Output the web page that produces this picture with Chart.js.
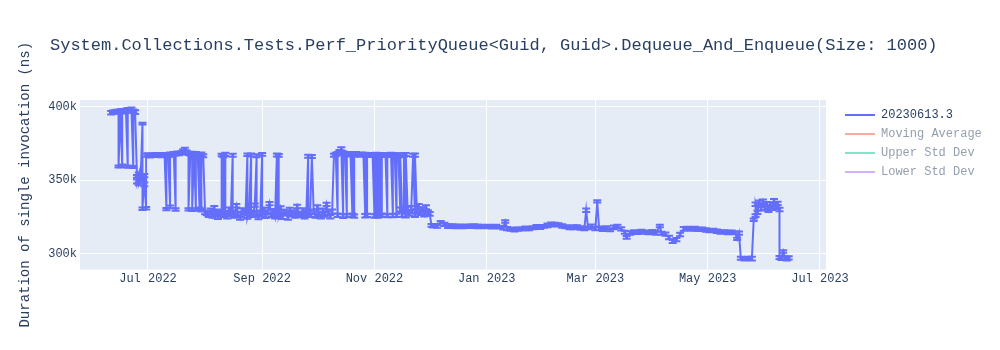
<!DOCTYPE html>
<html>
<head>
<meta charset="utf-8">
<script src="https://cdn.jsdelivr.net/npm/chart.js@4.4.1/dist/chart.umd.min.js"></script>
<style>
html,body{margin:0;padding:0;background:#ffffff;}
canvas{display:block;}
</style>
</head>
<body>
<canvas id="c" width="1000" height="350"></canvas>
<script>
// ---------------- data ----------------
const chartTitle = "System.Collections.Tests.Perf_PriorityQueue<Guid, Guid>.Dequeue_And_Enqueue(Size: 1000)";
const yAxisTitle = "Duration of single invocation (ns)";
const seriesNames = ["20230613.3", "Moving Average", "Upper Std Dev", "Lower Std Dev"];

const xTickDates = ["2022-07-01", "2022-09-01", "2022-11-01", "2023-01-01", "2023-03-01", "2023-05-01", "2023-07-01"];
const xTickLabels = ["Jul 2022", "Sep 2022", "Nov 2022", "Jan 2023", "Mar 2023", "May 2023", "Jul 2023"];
const xRange = ["2022-05-25T01:35:00Z", "2023-07-04T06:15:00Z"];
const yTickValues = [300000, 350000, 400000];
const yTickLabels = ["300k", "350k", "400k"];
const yRange = [289200, 404400];

const runDates = [
  '2022-06-11','2022-06-12','2022-06-13','2022-06-14','2022-06-15','2022-06-15','2022-06-16','2022-06-17','2022-06-17','2022-06-18',
  '2022-06-19','2022-06-20','2022-06-20','2022-06-21','2022-06-22','2022-06-23','2022-06-23','2022-06-24','2022-06-25','2022-06-25',
  '2022-06-26','2022-06-26','2022-06-27','2022-06-28','2022-06-28','2022-06-29','2022-06-29','2022-06-30','2022-06-30',
  '2022-07-01','2022-07-02','2022-07-03','2022-07-04','2022-07-05','2022-07-06','2022-07-07','2022-07-08','2022-07-09','2022-07-10',
  '2022-07-11','2022-07-11','2022-07-12','2022-07-13','2022-07-13','2022-07-14','2022-07-15','2022-07-16','2022-07-16','2022-07-17',
  '2022-07-18','2022-07-19','2022-07-20','2022-07-21','2022-07-22','2022-07-23','2022-07-23','2022-07-24','2022-07-25','2022-07-25',
  '2022-07-26','2022-07-27','2022-07-27','2022-07-28','2022-07-29','2022-07-29','2022-07-30','2022-07-30','2022-07-31','2022-08-01',
  '2022-08-02','2022-08-03','2022-08-04','2022-08-05','2022-08-06','2022-08-07','2022-08-08','2022-08-09','2022-08-10','2022-08-10',
  '2022-08-11','2022-08-11','2022-08-12','2022-08-12','2022-08-13','2022-08-14','2022-08-15','2022-08-16','2022-08-16','2022-08-17',
  '2022-08-18','2022-08-19','2022-08-20','2022-08-21','2022-08-22','2022-08-23','2022-08-24','2022-08-24','2022-08-25','2022-08-26',
  '2022-08-26','2022-08-27','2022-08-28','2022-08-29','2022-08-29','2022-08-30','2022-08-31','2022-09-01','2022-09-01','2022-09-02',
  '2022-09-03','2022-09-04','2022-09-05','2022-09-06','2022-09-07','2022-09-08','2022-09-09','2022-09-09','2022-09-10','2022-09-10',
  '2022-09-11','2022-09-12','2022-09-13','2022-09-14','2022-09-15','2022-09-16','2022-09-17','2022-09-18','2022-09-19','2022-09-20',
  '2022-09-21','2022-09-22','2022-09-23','2022-09-24','2022-09-25','2022-09-26','2022-09-26','2022-09-27','2022-09-28','2022-09-29',
  '2022-09-30','2022-10-01','2022-10-02','2022-10-03','2022-10-04','2022-10-05','2022-10-06','2022-10-07','2022-10-08','2022-10-09',
  '2022-10-10','2022-10-11','2022-10-12','2022-10-12','2022-10-13','2022-10-14','2022-10-15','2022-10-15','2022-10-16','2022-10-17',
  '2022-10-17','2022-10-18','2022-10-19','2022-10-20','2022-10-20','2022-10-21','2022-10-21','2022-10-22','2022-10-23','2022-10-24',
  '2022-10-25','2022-10-26','2022-10-27','2022-10-27','2022-10-28','2022-10-28','2022-10-29','2022-10-30','2022-10-31','2022-11-01',
  '2022-11-01','2022-11-02','2022-11-02','2022-11-03','2022-11-03','2022-11-04','2022-11-04','2022-11-05','2022-11-05','2022-11-06',
  '2022-11-07','2022-11-08','2022-11-08','2022-11-09','2022-11-10','2022-11-11','2022-11-11','2022-11-12','2022-11-13','2022-11-13',
  '2022-11-14','2022-11-15','2022-11-15','2022-11-16','2022-11-17','2022-11-17','2022-11-18','2022-11-18','2022-11-19','2022-11-20',
  '2022-11-21','2022-11-22','2022-11-23','2022-11-23','2022-11-24','2022-11-25','2022-11-26','2022-11-27','2022-11-28','2022-11-29','2022-11-30',
  '2022-12-01','2022-12-02',
  '2022-12-03','2022-12-05','2022-12-07','2022-12-09','2022-12-11','2022-12-13','2022-12-15','2022-12-17','2022-12-19','2022-12-21',
  '2022-12-23','2022-12-25','2022-12-27','2022-12-29','2022-12-31','2023-01-02','2023-01-04','2023-01-06','2023-01-08','2023-01-10',
  '2023-01-11','2023-01-12','2023-01-14','2023-01-16','2023-01-18','2023-01-20','2023-01-22','2023-01-24','2023-01-26','2023-01-28',
  '2023-01-30','2023-02-01','2023-02-03','2023-02-05','2023-02-07','2023-02-09','2023-02-11','2023-02-13','2023-02-15','2023-02-17',
  '2023-02-19','2023-02-21','2023-02-23','2023-02-24','2023-02-25','2023-02-27','2023-03-01','2023-03-02','2023-03-03',
  '2023-03-05','2023-03-07','2023-03-09','2023-03-11','2023-03-13','2023-03-15','2023-03-17','2023-03-18','2023-03-20','2023-03-22',
  '2023-03-24','2023-03-26','2023-03-28','2023-03-30','2023-04-01','2023-04-03','2023-04-05','2023-04-06','2023-04-08','2023-04-10',
  '2023-04-12','2023-04-14','2023-04-16','2023-04-18','2023-04-20','2023-04-22','2023-04-24','2023-04-26','2023-04-28','2023-04-30',
  '2023-05-02','2023-05-04','2023-05-06','2023-05-08','2023-05-10','2023-05-12','2023-05-14','2023-05-16','2023-05-17','2023-05-18',
  '2023-05-19','2023-05-21','2023-05-23','2023-05-25','2023-05-26','2023-05-27','2023-05-27','2023-05-28','2023-05-29','2023-05-30',
  '2023-05-31','2023-06-01','2023-06-02','2023-06-03','2023-06-04','2023-06-05','2023-06-06','2023-06-07','2023-06-08','2023-06-09',
  '2023-06-09','2023-06-10','2023-06-11','2023-06-12','2023-06-13','2023-06-14'
];

const runValues = [
  395800,396400,396100,397000,396300,359200,396800,359600,397200,396500,
  397600,359100,397900,396700,398100,358900,397000,396200,352500,349000,
  354000,347500,351000,388400,330500,353000,347000,330800,366800,
  367200,366500,367000,366800,367400,366900,367100,366600,367300,367000,
  330200,367200,366800,331800,367500,367000,368000,330000,367600,368200,
  367900,368500,369500,371000,369000,368000,330100,367800,368300,329800,
  367500,330000,368000,366900,330500,367300,329500,367600,366500,328000,
  327500,326000,329000,325500,331000,327000,324500,328500,326500,367000,
  366500,326000,367500,327500,325000,330000,326500,366800,328000,325500,
  332500,327000,324000,329500,326000,328500,367200,325000,330500,367000,
  327000,326000,333000,366500,327500,324500,328000,367400,326500,330000,
  325500,328000,334000,326000,329000,325000,367000,327500,366800,326000,
  331000,325000,328500,327000,324500,330000,326500,328000,325500,332000,
  327000,326000,329500,325000,328000,366200,327500,326000,366000,328500,
  325500,331500,327000,325000,329500,326500,333500,327500,325000,328500,
  366800,367500,326000,368000,369500,371200,325500,368500,367800,325800,
  367500,368000,367200,326200,367600,325500,367000,367800,367400,367000,
  367600,367200,325800,367500,326000,367300,366800,367400,367000,325600,
  367200,326000,367600,325500,367000,325800,367300,326200,366800,367400,
  367000,325700,367200,366700,367400,325900,367000,367300,326000,367100,
  366600,330000,367200,326500,329500,367000,325800,367400,330500,327000,
  331000,366800,326000,367000,329000,332500,327500,330000,326500,331500,328000,
  327000,319200,
  318900,318500,321300,319800,318700,319000,318400,318800,318300,318700,
  318500,318900,318400,318700,318300,318600,318200,318500,318000,317600,
  321800,317000,316500,316300,316600,316800,317200,317000,317600,318200,
  317800,318500,319200,319800,320000,319600,318700,318200,317600,317900,
  318300,317400,316900,329500,317500,318500,317000,335500,317200,
  316500,317500,316200,317800,318400,316800,314500,311000,314000,314800,
  314300,315000,314600,314200,314800,314000,318800,313800,313200,311000,
  308200,309500,313000,316800,317200,316600,317000,316400,316800,316000,
  315600,315900,315200,314600,314900,314300,314600,314100,310000,314000,
  296800,296500,297000,296600,323000,325800,333500,328000,334800,330500,
  335500,331000,334000,329500,333500,330800,335800,331500,334200,330000,
  297300,296800,301400,297000,296600,297100
];

const runErrors = [
  1200,900,1100,800,1000,700,1300,900,1000,1200,
  900,800,1100,1000,1200,700,900,1300,1000,1400,
  1200,1000,1500,600,900,1100,1300,800,1000,
  1000,1200,900,1100,1000,1300,900,1100,1000,1200,
  800,1000,1100,900,1200,1000,1100,900,1000,1200,
  1100,1000,1200,900,1100,1000,800,1200,1000,900,
  1000,900,1100,1200,800,1000,900,1100,1000,1300,
  1400,1100,1600,1200,1300,1500,1000,1400,1200,900,
  1000,1300,1100,1500,1200,1400,1100,1000,1300,1200,
  1200,1500,1000,1300,1400,1100,900,1300,1200,1000,
  1400,1200,1100,1000,1500,1200,1300,900,1400,1200,
  1300,1500,1100,1200,1400,1100,1000,1300,900,1200,
  1200,1400,1300,1100,1500,1200,1300,1400,1100,1200,
  1400,1200,1300,1100,1500,1000,1300,1200,1000,1400,
  1200,1300,1500,1100,1200,1400,1100,1300,1200,1400,
  1000,1100,1200,1000,900,1100,1300,1000,1200,1100,
  1000,1100,1200,1000,900,1100,1000,1200,1000,1100,
  1100,1000,1200,1000,1100,900,1200,1000,1100,1200,
  1000,1100,1000,1200,1100,1000,900,1100,1200,1000,
  1100,1000,1200,1000,1100,1200,1000,900,1100,1000,
  1200,1300,1000,1400,1200,1100,1300,1000,1400,1200,
  1300,1000,1200,1100,1400,1200,1300,1500,1200,1300,1400,
  1300,1000,
  1200,1000,900,1100,1300,1000,1200,900,1100,1000,
  1100,1000,1200,900,1100,1000,1200,1100,1000,1200,
  800,1100,1000,1200,1100,1000,1300,1100,1000,1200,
  1100,1000,1200,1300,1000,1100,1200,1000,1100,1300,
  1000,1200,1100,1200,1000,1300,1100,700,1200,
  1200,1100,1000,1300,1200,1100,1000,900,1200,1100,
  1000,1200,1100,1000,1200,1100,800,1000,1100,1200,
  1000,1100,1200,1300,1100,1000,1200,1100,1000,1200,
  1100,1000,1200,1100,1000,1200,1100,1000,800,1100,
  1000,1100,900,1200,900,1000,1200,1100,1300,1200,
  1200,1300,1100,1200,1400,1100,1300,1200,1100,1200,
  1000,1100,800,1000,1200,1100
];

// ---------------- styles ----------------
const FONT = "'Liberation Mono', 'Courier New', monospace";
const TEXT = '#2a3f5f';
const MAIN = '#636efa';
const legendLineColors = ['#636efa', '#f7aa9d', '#80e6cb', '#d5b1fd'];
const legendTextColors = ['#2a3f5f', '#949fae', '#949fae', '#949fae'];

const toMs = s => Date.parse(s.length === 10 ? s + 'T00:00:00Z' : s);
const xs = runDates.map(toMs);
const lineData = xs.map((x, i) => ({x: x, y: runValues[i]}));
const barData = xs.map((x, i) => ({x: x, y: [runValues[i] - runErrors[i], runValues[i] + runErrors[i]]}));
const capData = [];
xs.forEach((x, i) => {
  capData.push({x: x, y: runValues[i] + runErrors[i]});
  capData.push({x: x, y: runValues[i] - runErrors[i]});
});

const plotBg = {
  id: 'plotBg',
  beforeDraw(chart) {
    const {ctx, chartArea: a} = chart;
    ctx.save();
    ctx.fillStyle = '#ffffff';
    ctx.fillRect(0, 0, chart.width, chart.height);
    ctx.fillStyle = '#E5ECF6';
    ctx.fillRect(a.left, a.top, a.right - a.left, a.bottom - a.top);
    ctx.restore();
  }
};

const layoutTweak = {
  id: 'layoutTweak',
  beforeLayout(chart) {
    const lg = chart.legend;
    if (lg && !lg.__wrapped) {
      const f = lg.fit;
      lg.fit = function () { f.call(this); this.width = 174; };
      lg.__wrapped = true;
    }
  },
  afterLayout(chart) {
    if (chart.titleBlock) chart.titleBlock.left = 50;
    if (chart.legend) { chart.legend.left += 12; chart.legend.top += 2; }
  }
};

new Chart(document.getElementById('c'), {
  type: 'line',
  data: {
    datasets: [
      {
        type: 'line', label: seriesNames[0], data: lineData,
        borderColor: MAIN, backgroundColor: MAIN, borderWidth: 2,
        pointRadius: 0, tension: 0, fill: false, order: 1
      },
      {
        type: 'bar', label: 'err', data: barData,
        backgroundColor: MAIN, borderWidth: 0, barThickness: 2, grouped: false, order: 2
      },
      {
        type: 'line', label: 'caps', data: capData, showLine: false,
        pointStyle: 'line', pointRadius: 4, pointBorderWidth: 2,
        pointBorderColor: MAIN, pointBackgroundColor: MAIN, order: 0
      },
      { type: 'line', label: seriesNames[1], data: [], hidden: true, borderColor: '#EF553B' },
      { type: 'line', label: seriesNames[2], data: [], hidden: true, borderColor: '#00cc96' },
      { type: 'line', label: seriesNames[3], data: [], hidden: true, borderColor: '#ab63fa' }
    ]
  },
  options: {
    responsive: false,
    devicePixelRatio: 1,
    animation: false,
    events: [],
    layout: { padding: { left: 0, right: 0, top: 0, bottom: 50.5 } },
    scales: {
      x: {
        type: 'linear', min: toMs(xRange[0]), max: toMs(xRange[1]), offset: false,
        afterBuildTicks: s => { s.ticks = xTickDates.map(d => ({value: toMs(d)})); },
        afterFit: s => { s.height = 30; },
        ticks: {
          autoSkip: false, maxRotation: 0, padding: 2, color: TEXT,
          font: { family: FONT, size: 12 },
          callback: (v, i) => xTickLabels[i]
        },
        grid: { color: '#ffffff', lineWidth: 1, drawTicks: false, offset: false },
        border: { display: false }
      },
      y: {
        type: 'linear', min: yRange[0], max: yRange[1],
        afterBuildTicks: s => { s.ticks = yTickValues.map(v => ({value: v})); },
        afterFit: s => { s.width = 80; },
        ticks: {
          padding: 3, color: TEXT, font: { family: FONT, size: 12 },
          callback: (v, i) => yTickLabels[i]
        },
        grid: { color: '#ffffff', lineWidth: 1, drawTicks: false },
        border: { display: false },
        title: {
          display: true, text: yAxisTitle, color: TEXT,
          font: { family: FONT, size: 14, lineHeight: 1.2 },
          padding: { top: 17, bottom: 0 }
        }
      }
    },
    plugins: {
      tooltip: { enabled: false },
      title: {
        display: true, text: chartTitle, align: 'start', color: TEXT,
        font: { family: FONT, size: 17, weight: 'normal', lineHeight: 1.2 },
        padding: { top: 35, bottom: 44.6 }
      },
      legend: {
        display: true, position: 'right', align: 'start', fullSize: false,
        labels: {
          font: { family: FONT, size: 12 },
          padding: 7,
          usePointStyle: true,
          pointStyleWidth: 30,
          generateLabels: () => seriesNames.map((name, i) => ({
            text: name,
            fillStyle: legendLineColors[i],
            strokeStyle: legendLineColors[i],
            lineWidth: 2,
            pointStyle: 'line',
            hidden: false,
            fontColor: legendTextColors[i],
            datasetIndex: i === 0 ? 0 : i + 2
          }))
        }
      }
    }
  },
  plugins: [plotBg, layoutTweak]
});
</script>
</body>
</html>
